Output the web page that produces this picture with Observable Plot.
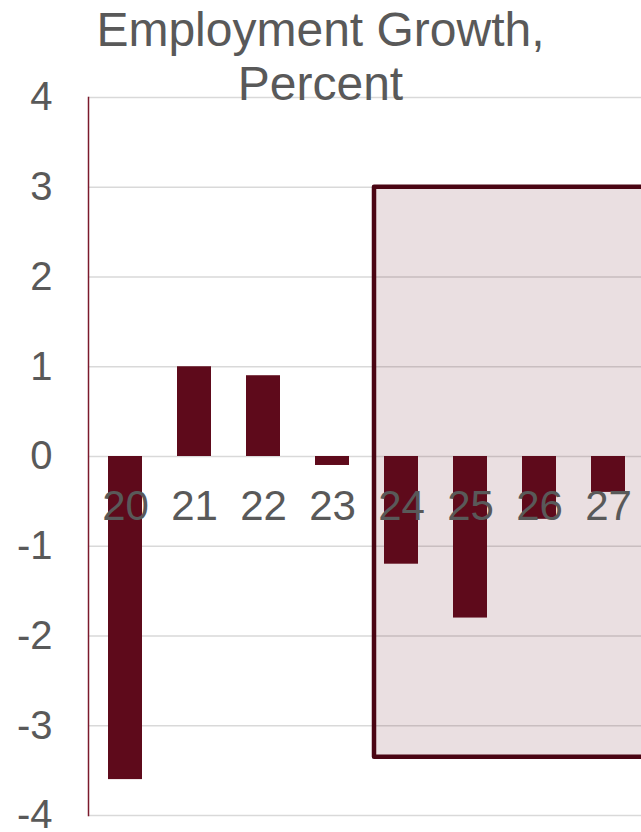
<!DOCTYPE html>
<html>
<head>
<meta charset="utf-8">
<script src="https://cdn.jsdelivr.net/npm/d3@7"></script>
<script src="https://cdn.jsdelivr.net/npm/@observablehq/plot@0.6"></script>
<style>
  html, body { margin: 0; padding: 0; background: #fff; overflow: hidden; }
  #wrap { position: relative; width: 641px; height: 832px; }
  #title { position: absolute; left: 0; top: 3px; width: 641px; text-align: center;
    font-family: "Liberation Sans", Arial, sans-serif; font-size: 48px; line-height: 54px; color: #595959; z-index: 2; }
  #chart { position: absolute; left: 0; top: 0; }
</style>
</head>
<body>
<div id="wrap">
  <div id="title">Employment Growth,<br>Percent</div>
  <div id="chart"></div>
</div>
<script>
const years = ["20", "21", "22", "23", "24", "25", "26", "27"];
const growth = [-3.6, 1.0, 0.9, -0.1, -1.2, -1.8, -0.7, -0.4];
const yTicks = [-4, -3, -2, -1, 0, 1, 2, 3, 4];
const forecast = [{x1: "24", x2: "27", y1: -3.35, y2: 3}];

const data = years.map((y, i) => ({year: y, value: growth[i]}));

const chart = Plot.plot({
  width: 641,
  height: 832,
  marginLeft: 88,
  marginRight: 0,
  marginTop: 97,
  marginBottom: 17,
  style: {fontFamily: "Liberation Sans, Arial, sans-serif", background: "transparent"},
  x: {domain: years, range: [88, 645.6], paddingInner: 0.51, paddingOuter: 0.255, axis: null},
  y: {domain: [-4, 4], ticks: yTicks, axis: null},
  marks: [
    Plot.gridY(yTicks, {stroke: "#d9d9d9", strokeOpacity: 1, strokeWidth: 1.5}),
    Plot.rect(forecast, {x1: "x1", x2: "x2", y1: "y1", y2: "y2",
      fill: "#5e0a1b", fillOpacity: 0.13, stroke: "#4a0513", strokeWidth: 4.5,
      strokeLinejoin: "round", insetLeft: -10, insetRight: -40}),
    Plot.barY(data, {x: "year", y: "value", fill: "#5e0a1b"}),
    Plot.frame({anchor: "left", stroke: "#7b1a2c", strokeWidth: 1.5}),
    Plot.axisY(yTicks, {tickSize: 0, tickPadding: 36, fontSize: 40, fill: "#595959", tickFormat: d => String(d)}),
    Plot.text(years, {x: d => d, y: () => 0, dy: 50, fontSize: 42, fill: "#595959"})
  ]
});
document.getElementById("chart").appendChild(chart);
</script>
</body>
</html>
